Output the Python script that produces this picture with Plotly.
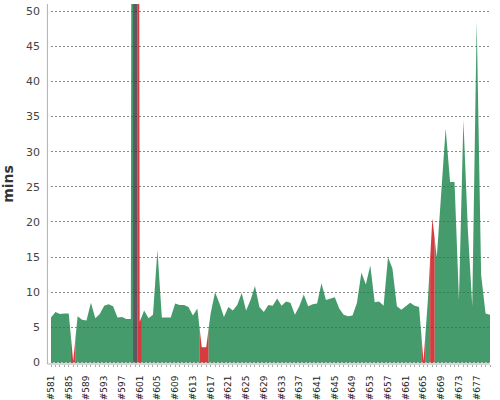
import plotly.graph_objects as go

# ---- data ----
first_build = 581
durations = [
    6.4, 7.2, 6.9, 7.0, 7.0, 0.2, 6.6, 6.1, 6.0, 8.5,      # 581-590
    6.3, 6.9, 8.1, 8.3, 8.0, 6.4, 6.5, 6.2, 6.2, 480.0,    # 591-600
    5.8, 7.4, 6.3, 6.8, 16.0, 6.4, 6.4, 6.4, 8.4, 8.2,     # 601-610
    8.2, 7.9, 6.7, 7.7, 2.2, 2.2, 7.0, 10.0, 8.4, 6.5,     # 611-620
    7.9, 7.4, 8.2, 9.9, 7.4, 8.9, 10.9, 7.9, 7.2, 8.2,     # 621-630
    8.1, 9.1, 8.1, 8.7, 8.5, 6.8, 8.0, 9.7, 8.0, 8.3,      # 631-640
    8.4, 11.3, 8.9, 9.1, 9.3, 7.7, 6.8, 6.6, 6.7, 8.5,     # 641-650
    12.8, 11.1, 13.8, 8.6, 8.7, 8.1, 15.0, 13.4, 8.0, 7.5, # 651-660
    8.0, 8.5, 8.1, 7.9, 0.2, 9.0, 20.5, 15.0, 24.3, 33.3,  # 661-670
    25.7, 25.7, 8.9, 34.5, 19.0, 8.0, 48.5, 12.5, 7.0, 6.8 # 671-680
]
failed_builds = [586, 601, 615, 616, 665, 667]
aborted_builds = [600]
y_ticks = [0, 5, 10, 15, 20, 25, 30, 35, 40, 45, 50]

builds = [first_build + i for i in range(len(durations))]
labels = ["#%d" % b for b in builds]
status = ["failure" if b in failed_builds else "aborted" if b in aborted_builds else "success"
          for b in builds]

colors = {
    "success": "rgba(22,130,71,0.80)",
    "failure": "rgba(205,10,14,0.80)",
    "aborted": "rgba(52,46,58,0.80)",
}

N = len(durations)


def run_polygon(a, b):
    """Polygon for builds a..b (indices), each occupying its half-category area."""
    xl = max(a - 0.5, 0)
    yl = durations[a] if a == 0 else (durations[a - 1] + durations[a]) / 2
    xr = min(b + 0.5, N - 1)
    yr = durations[b] if b == N - 1 else (durations[b] + durations[b + 1]) / 2
    xs = [xl, xl] + list(range(a, b + 1)) + [xr, xr]
    ys = [0, yl] + [durations[k] for k in range(a, b + 1)] + [yr, 0]
    return xs, ys


segments = {k: ([], []) for k in colors}
i = 0
while i < N:
    j = i
    while j + 1 < N and status[j + 1] == status[i]:
        j += 1
    xs, ys = run_polygon(i, j)
    sx, sy = segments[status[i]]
    if sx:
        sx.append(None)
        sy.append(None)
    sx.extend(xs)
    sy.extend(ys)
    i = j + 1

fig = go.Figure()
for st in ["success", "failure", "aborted"]:
    sx, sy = segments[st]
    if not sx:
        continue
    fig.add_trace(go.Scatter(
        x=sx, y=sy, mode="lines", fill="toself",
        fillcolor=colors[st], line=dict(width=0, color=colors[st]),
        hoverinfo="skip", showlegend=False,
    ))

fig.update_layout(
    width=500, height=400, autosize=False,
    margin=dict(l=51, r=10, t=4, b=36, pad=0),
    paper_bgcolor="white", plot_bgcolor="white",
    font=dict(family="DejaVu Sans", color="#444"),
    xaxis=dict(
        range=[0, N - 1],
        tickmode="array",
        tickvals=list(range(N)),
        ticktext=[labels[k] if k % 4 == 0 else "" for k in range(N)],
        tickangle=-90,
        ticks="outside", ticklen=2, tickcolor="#aaaaaa", tickwidth=1,
        tickfont=dict(family="DejaVu Sans", size=9, color="#222"),
        ticklabelstandoff=5,
        showgrid=False, zeroline=False, showline=False,
        automargin=False, fixedrange=True,
    ),
    yaxis=dict(
        range=[-0.2, 51],
        tickmode="array", tickvals=y_ticks,
        ticks="", ticklabelstandoff=10,
        tickfont=dict(family="DejaVu Sans", size=11, color="#444"),
        showgrid=True, gridcolor="#8a8a8a", gridwidth=1, griddash="2px,2px",
        zeroline=False, showline=False,
        title=dict(text="mins", standoff=9,
                   font=dict(family="DejaVu Sans", size=14, color="#333", weight="bold")),
        automargin=False, fixedrange=True,
    ),
    shapes=[
        dict(type="line", xref="paper", yref="paper", x0=-0.0082, x1=-0.0082, y0=0, y1=1,
             line=dict(color="#b0b0b0", width=1)),
        dict(type="line", xref="paper", yref="paper", x0=-0.0082, x1=1, y0=0, y1=0,
             line=dict(color="#b0b0b0", width=1)),
    ],
)

fig.write_html("out.html", config={"displayModeBar": False},
               post_script="document.body.style.margin='0';")
